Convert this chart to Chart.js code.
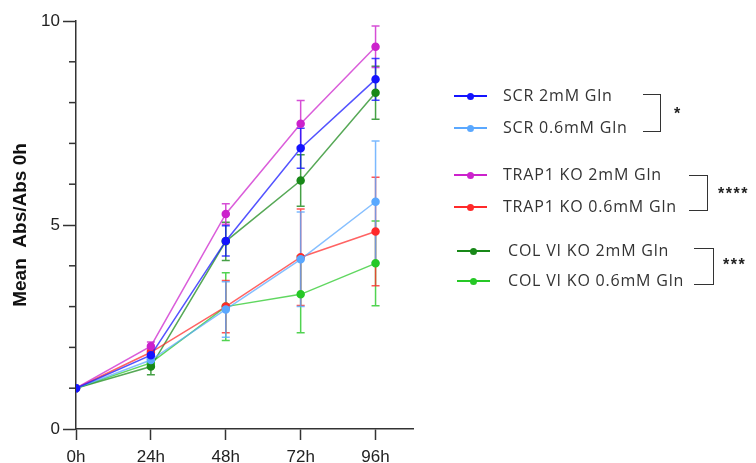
<!DOCTYPE html>
<html>
<head>
<meta charset="utf-8">
<script src="https://cdn.jsdelivr.net/npm/chart.js@4.4.1/dist/chart.umd.min.js"></script>
<style>
  html, body { margin: 0; padding: 0; background: #fff; }
  #wrap { position: relative; width: 756px; height: 463px; overflow: hidden; }
  #chart { position: absolute; left: 0; top: 0; }
  .leg { position: absolute; font-family: "Open Sans", sans-serif; font-size: 16px; color: #333; letter-spacing: 0.8px; white-space: nowrap; }
  .sw { position: absolute; height: 2px; }
  .dot { position: absolute; width: 7px; height: 7px; border-radius: 50%; }
  .br { position: absolute; border: 1.5px solid #333; border-left: none; }
  .star { position: absolute; font-family: "Liberation Sans", Arial, sans-serif; font-size: 16px; font-weight: bold; color: #222; letter-spacing: 1.5px; }
</style>
</head>
<body>
<div id="wrap">
  <canvas id="chart" width="756" height="463"></canvas>
  <div id="legend"></div>
</div>
<script>
// time points (h)
var hours = [0, 24, 48, 72, 96];
var xTicks = [0, 24, 48, 72, 96];
var yTicks = [0, 5, 10];

var seriesNames = ['SCR 2mM Gln', 'SCR 0.6mM Gln', 'TRAP1 KO 2mM Gln', 'TRAP1 KO 0.6mM Gln', 'COL VI KO 2mM Gln', 'COL VI KO 0.6mM Gln'];

var scr2 = [1, 1.81, 4.61, 6.88, 8.57];
var scr2Err = [0, 0.10, 0.37, 0.49, 0.51];
var scr06 = [1, 1.69, 2.93, 4.16, 5.57];
var scr06Err = [0, 0.08, 0.68, 1.16, 1.49];
var trap2 = [1, 2.03, 5.27, 7.48, 9.37];
var trap2Err = [0, 0.10, 0.25, 0.57, 0.51];
var trap06 = [1, 1.88, 3.00, 4.21, 4.84];
var trap06Err = [0, 0.08, 0.64, 1.18, 1.33];
var col2 = [1, 1.53, 4.60, 6.09, 8.24];
var col2Err = [0, 0.20, 0.47, 0.63, 0.65];
var col06 = [1, 1.62, 3.00, 3.30, 4.06];
var col06Err = [0, 0.10, 0.83, 0.94, 1.04];

var colors = ['#1414ff', '#5aa8ff', '#cc22cc', '#ff2a2a', '#188818', '#26c826'];
var means = [scr2, scr06, trap2, trap06, col2, col06];
var errs = [scr2Err, scr06Err, trap2Err, trap06Err, col2Err, col06Err];

// significance of each 2mM vs 0.6mM pair
var stars = ['*', '****', '***'];

var datasets = [];
means.forEach(function(vals, i) {
    datasets.push({
        label: seriesNames[i],
        data: vals.map(function(v, j) { return { x: hours[j], y: v }; }),
        err: errs[i],
        borderColor: colors[i] + 'bb',
        backgroundColor: colors[i],
        pointBackgroundColor: colors[i],
        pointBorderColor: colors[i],
        borderWidth: 1.5,
        pointRadius: 3.5,
        tension: 0
    });
});

// error bars drawn with the chart's own scales
var errorBars = {
    id: 'errorBars',
    beforeDatasetsDraw: function(chart) {
        var ctx = chart.ctx;
        var xs = chart.scales.x, ys = chart.scales.y;
        ctx.save();
        for (var i = chart.data.datasets.length - 1; i >= 0; i--) {
            var ds = chart.data.datasets[i];
            ctx.strokeStyle = colors[i] + 'cc';
            ctx.lineWidth = 1.5;
            ds.data.forEach(function(p, j) {
                var e = ds.err[j];
                if (!e) return;
                var px = xs.getPixelForValue(p.x);
                var top = ys.getPixelForValue(p.y + e);
                var bot = ys.getPixelForValue(p.y - e);
                ctx.beginPath();
                ctx.moveTo(px, top); ctx.lineTo(px, bot);
                ctx.moveTo(px - 4, top); ctx.lineTo(px + 4, top);
                ctx.moveTo(px - 4, bot); ctx.lineTo(px + 4, bot);
                ctx.stroke();
            });
        }
        ctx.restore();
    },
    afterDraw: function(chart) {
        // minor y ticks
        var ctx = chart.ctx, ys = chart.scales.y;
        var x0 = chart.chartArea.left;
        ctx.save();
        ctx.strokeStyle = '#333';
        ctx.lineWidth = 1.5;
        for (var v = 1; v < 10; v++) {
            if (v % 5 === 0) continue;
            var py = ys.getPixelForValue(v);
            ctx.beginPath();
            ctx.moveTo(x0 - 7, py); ctx.lineTo(x0, py);
            ctx.stroke();
        }
        ctx.restore();
    }
};

var ctx = document.getElementById('chart').getContext('2d');
new Chart(ctx, {
    type: 'line',
    data: { datasets: datasets },
    plugins: [errorBars],
    options: {
        responsive: false,
        animation: false,
        layout: { padding: { left: 0, top: 21, right: 343, bottom: 0 } },
        plugins: { legend: { display: false }, tooltip: { enabled: false } },
        scales: {
            x: {
                type: 'linear',
                min: 0,
                max: 108,
                afterBuildTicks: function(scale) {
                    scale.ticks = xTicks.map(function(v) { return { value: v }; });
                },
                afterFit: function(scale) { scale.height = 34; },
                ticks: {
                    callback: function(v) { return v + 'h'; },
                    color: '#222',
                    padding: 7,
                    maxRotation: 0,
                    font: { family: 'Liberation Sans', size: 17 }
                },
                grid: { drawOnChartArea: false, tickLength: 11, tickColor: '#333', tickWidth: 1.5 },
                border: { color: '#333', width: 1.5 }
            },
            y: {
                min: 0,
                max: 10,
                afterFit: function(scale) { scale.width = 76; },
                ticks: {
                    stepSize: 1,
                    callback: function(v) { return yTicks.indexOf(v) >= 0 ? v : ''; },
                    color: '#222',
                    padding: 3,
                    font: { family: 'Liberation Sans', size: 17 }
                },
                grid: {
                    drawOnChartArea: false,
                    tickLength: 13,
                    tickWidth: 1.5,
                    tickColor: function(c) { return yTicks.indexOf(c.tick.value) >= 0 ? '#333' : 'rgba(0,0,0,0)'; }
                },
                border: { color: '#333', width: 1.5 },
                title: {
                    display: true,
                    text: 'Mean  Abs/Abs 0h',
                    color: '#111',
                    padding: { top: 9, bottom: 0 },
                    font: { family: 'Liberation Sans', size: 19, weight: 'bold' }
                }
            }
        }
    }
});

// legend with significance brackets
var legendRows = [96, 128, 175, 207, 251, 281];
var legendX = [[454, 503], [454, 503], [454, 503], [454, 503], [457, 508], [457, 508]];
var brackets = [[643, 660, 94, 130, 674, 105], [689, 707, 175, 209, 718, 185], [694, 713, 248, 283, 723, 256]];
var leg = document.getElementById('legend');
var html = '';
seriesNames.forEach(function(name, i) {
    var y = legendRows[i], lx = legendX[i][0], tx = legendX[i][1];
    html += '<div class="sw" style="left:' + lx + 'px;top:' + (y - 1) + 'px;width:33px;background:' + colors[i] + '"></div>';
    html += '<div class="dot" style="left:' + (lx + 13) + 'px;top:' + (y - 3.5) + 'px;background:' + colors[i] + '"></div>';
    html += '<div class="leg" style="left:' + tx + 'px;top:' + (y - 12) + 'px">' + name + '</div>';
});
brackets.forEach(function(b, i) {
    html += '<div class="br" style="left:' + b[0] + 'px;top:' + b[2] + 'px;width:' + (b[1] - b[0]) + 'px;height:' + (b[3] - b[2]) + 'px"></div>';
    html += '<div class="star" style="left:' + b[4] + 'px;top:' + b[5] + 'px">' + stars[i] + '</div>';
});
leg.innerHTML = html;
</script>
</body>
</html>
